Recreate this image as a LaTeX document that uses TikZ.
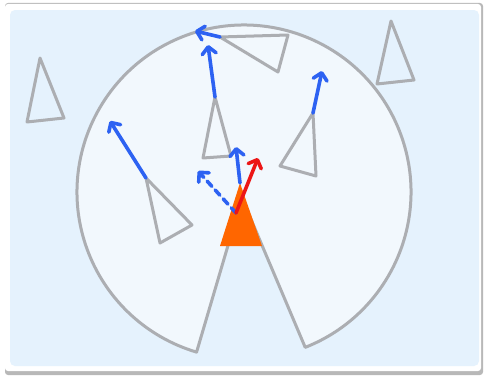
\documentclass[tikz,border=0pt]{standalone}
\usepackage{tikz}
\usetikzlibrary{arrows.meta,calc}

\definecolor{bgblue}{RGB}{229,242,253}
\definecolor{fovfill}{RGB}{242,248,253}
\definecolor{agentgray}{RGB}{172,174,178}
\definecolor{velblue}{RGB}{45,98,242}
\definecolor{velred}{RGB}{236,22,22}
\definecolor{selforange}{RGB}{255,102,0}

\begin{document}
\begin{tikzpicture}[x=1pt, y=1pt,
    agent/.style={draw=agentgray, line width=3pt, line join=round},
    vel/.style={draw=velblue, line width=3.6pt, line cap=round,
      -{Straight Barb[length=7pt, width=14pt, round]}},
    velred/.style={vel, draw=velred}]
  \useasboundingbox (0,0) rectangle (484,376);

  % Card with shadow
  \fill[black!28, rounded corners=3pt] (5,1) rectangle (483,373);
  \fill[white, rounded corners=3pt] (5,5) rectangle (481,372);
  \fill[bgblue, rounded corners=5pt] (10,10) rectangle (479,366);

  % Field of view (sector with a blind wedge at the back)
  \coordinate (fov) at (244,184);
  \coordinate (fovTip) at (242,178);
  \filldraw[agent, fill=fovfill] (fovTip) -- ($(fov)+(-68.5:167)$) arc (-68.5:253.5:167) -- cycle;

  % Neighbour agents
  % #1=name, then three corners, apex first
  \newcommand{\agentTri}[4]{%
    \coordinate (#1) at #2;
    \draw[agent] (#1) -- #3 -- #4 -- cycle;
  }
  \agentTri{farL}{(40,318)}{(27,254)}{(64,258)}
  \agentTri{farR}{(391,355)}{(377,292)}{(414,296)}
  \agentTri{top}{(220,339)}{(288,341)}{(278,304)}
  \agentTri{mid}{(215,279)}{(203,218)}{(231,220)}
  \agentTri{right}{(313,263)}{(280,210)}{(316,200)}
  \agentTri{left}{(146,198)}{(192,151)}{(160,133)}

  % Own agent
  \coordinate (self) at (240,193);
  \fill[selforange] (self) -- (220,130) -- (262,130) -- cycle;

  % Velocities of the neighbours
  \coordinate (topV) at (195,345);
  \coordinate (midV) at (208,331);
  \coordinate (rightV) at (322,305);
  \coordinate (leftV) at (110,255);
  \draw[vel] (top) -- (topV);
  \draw[vel] (mid) -- (midV);
  \draw[vel] (right) -- (rightV);
  \draw[vel] (left) -- (leftV);

  % Own velocities
  \coordinate (selfC) at (236,163);
  \coordinate (avgV) at (236,229);
  \coordinate (oldV) at (198,205);
  \coordinate (newV) at (258,218);
  \draw[vel] (self) -- (avgV);
  \draw[vel, dash pattern=on 7pt off 5pt] (selfC) -- (oldV);
  \draw[velred] (selfC) -- (newV);
\end{tikzpicture}
\end{document}
